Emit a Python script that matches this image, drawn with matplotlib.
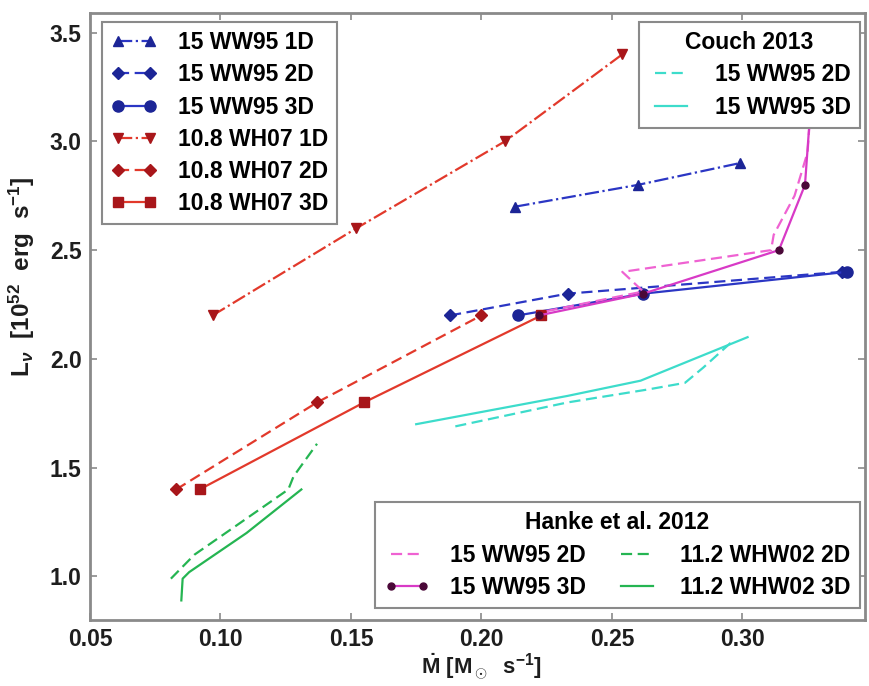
import matplotlib
matplotlib.use("Agg")
import matplotlib.pyplot as plt

# ---- data: mass accretion rate [Msun/s] vs neutrino luminosity [1e52 erg/s] ----
ww95_1d_mdot = [0.213, 0.260, 0.299]
ww95_1d_lum = [2.7, 2.8, 2.9]
ww95_2d_mdot = [0.188, 0.233, 0.338]
ww95_2d_lum = [2.2, 2.3, 2.4]
ww95_3d_mdot = [0.214, 0.262, 0.340]
ww95_3d_lum = [2.2, 2.3, 2.4]

wh07_1d_mdot = [0.097, 0.152, 0.209, 0.254]
wh07_1d_lum = [2.2, 2.6, 3.0, 3.4]
wh07_2d_mdot = [0.083, 0.137, 0.200]
wh07_2d_lum = [1.4, 1.8, 2.2]
wh07_3d_mdot = [0.092, 0.155, 0.223]
wh07_3d_lum = [1.4, 1.8, 2.2]

couch_2d_mdot = [0.190, 0.233, 0.264, 0.278, 0.285, 0.297]
couch_2d_lum = [1.69, 1.80, 1.86, 1.89, 1.96, 2.09]
couch_3d_mdot = [0.175, 0.233, 0.261, 0.302]
couch_3d_lum = [1.70, 1.83, 1.90, 2.10]

hanke15_2d_mdot = [0.225, 0.262, 0.254, 0.311, 0.312, 0.320, 0.325, 0.327]
hanke15_2d_lum = [2.22, 2.31, 2.40, 2.50, 2.57, 2.75, 2.95, 3.30]
hanke15_3d_mdot = [0.222, 0.262, 0.314, 0.324, 0.327]
hanke15_3d_lum = [2.20, 2.30, 2.50, 2.80, 3.30]

hanke11_2d_mdot = [0.081, 0.090, 0.108, 0.126, 0.128, 0.137]
hanke11_2d_lum = [0.99, 1.10, 1.25, 1.40, 1.46, 1.61]
hanke11_3d_mdot = [0.085, 0.0855, 0.088, 0.110, 0.131]
hanke11_3d_lum = [0.89, 0.99, 1.02, 1.20, 1.40]

# ---- style ----
plt.rcParams["font.family"] = ["Liberation Sans", "DejaVu Sans"]
plt.rcParams["font.weight"] = "bold"
plt.rcParams["axes.labelweight"] = "bold"
plt.rcParams["font.size"] = 16.5
plt.rcParams["mathtext.fontset"] = "custom"
plt.rcParams["mathtext.rm"] = "Liberation Sans:bold"
plt.rcParams["mathtext.it"] = "Liberation Sans:bold:italic"
plt.rcParams["mathtext.bf"] = "Liberation Sans:bold"

BLUE = "#2b36c4"
BLUE_M = "#1c2596"
RED = "#e2392b"
RED_M = "#a8161a"
CYAN = "#3ddccb"
GREEN = "#25b552"
PINK = "#ef62d2"
MAG = "#d83ac6"
MAG_M = "#4a0838"
FRAME = "#8a8a8a"
TEXT = "#1e1e1e"

fig = plt.figure(figsize=(8.69, 6.86), dpi=100)
ax = fig.add_axes([90 / 869, 1 - 620 / 686, 775 / 869, 607 / 686])

lw = 1.6
dash = (5, 2.5)

l_ww1, = ax.plot(ww95_1d_mdot, ww95_1d_lum, linestyle="-.", color=BLUE, lw=lw,
                 marker="^", ms=6.5, mfc=BLUE_M, mec=BLUE_M, label="15 WW95 1D")
l_ww2, = ax.plot(ww95_2d_mdot, ww95_2d_lum, linestyle="--", dashes=dash, color=BLUE, lw=lw,
                 marker="D", ms=6.5, mfc=BLUE_M, mec=BLUE_M, label="15 WW95 2D")
l_ww3, = ax.plot(ww95_3d_mdot, ww95_3d_lum, linestyle="-", color=BLUE, lw=lw,
                 marker="o", ms=8, mfc=BLUE_M, mec=BLUE_M, label="15 WW95 3D")
l_wh1, = ax.plot(wh07_1d_mdot, wh07_1d_lum, linestyle="-.", color=RED, lw=lw,
                 marker="v", ms=6.5, mfc=RED_M, mec=RED_M, label="10.8 WH07 1D")
l_wh2, = ax.plot(wh07_2d_mdot, wh07_2d_lum, linestyle="--", dashes=dash, color=RED, lw=lw,
                 marker="D", ms=6.5, mfc=RED_M, mec=RED_M, label="10.8 WH07 2D")
l_wh3, = ax.plot(wh07_3d_mdot, wh07_3d_lum, linestyle="-", color=RED, lw=lw,
                 marker="s", ms=7.5, mfc=RED_M, mec=RED_M, label="10.8 WH07 3D")

l_c2, = ax.plot(couch_2d_mdot, couch_2d_lum, linestyle="--", dashes=dash, color=CYAN, lw=lw,
                label="15 WW95 2D")
l_c3, = ax.plot(couch_3d_mdot, couch_3d_lum, linestyle="-", color=CYAN, lw=lw,
                label="15 WW95 3D")

l_h2, = ax.plot(hanke15_2d_mdot, hanke15_2d_lum, linestyle="--", dashes=dash, color=PINK, lw=lw,
                label="15 WW95 2D")
l_h3, = ax.plot(hanke15_3d_mdot, hanke15_3d_lum, linestyle="-", color=MAG, lw=lw,
                marker="o", ms=5, mfc=MAG_M, mec=MAG_M, label="15 WW95 3D")
l_g2, = ax.plot(hanke11_2d_mdot, hanke11_2d_lum, linestyle="--", dashes=dash, color=GREEN, lw=lw,
                label="11.2 WHW02 2D")
l_g3, = ax.plot(hanke11_3d_mdot, hanke11_3d_lum, linestyle="-", color=GREEN, lw=lw,
                label="11.2 WHW02 3D")

ax.set_xlim(0.05, 0.347)
ax.set_ylim(0.8, 3.59)
ax.set_xticks([0.05, 0.10, 0.15, 0.20, 0.25, 0.30])
ax.set_xticklabels(["0.05", "0.10", "0.15", "0.20", "0.25", "0.30"])
ax.set_yticks([1.0, 1.5, 2.0, 2.5, 3.0, 3.5])
ax.set_yticklabels(["1.0", "1.5", "2.0", "2.5", "3.0", "3.5"])
ax.tick_params(direction="in", length=5, width=1.2, color=FRAME,
               top=True, right=True, labelcolor=TEXT, pad=6)
for s in ax.spines.values():
    s.set_color(FRAME)
    s.set_linewidth(2.0)

ax.set_xlabel(r"$\dot{\mathrm{M}}$ [M$_\odot$  s$^{-1}$]", color=TEXT, fontsize=16)
ax.xaxis.set_label_coords(0.505, -0.052)
ax.set_ylabel(r"L$_\nu$  [10$^{52}$  erg  s$^{-1}$]", color=TEXT, fontsize=17.5)
ax.yaxis.set_label_coords(-0.068, 0.565)

leg_kw = dict(frameon=True, fancybox=False, edgecolor=FRAME, facecolor="white",
              framealpha=1.0, handlelength=2.0, handletextpad=0.9, borderpad=0.4,
              labelspacing=0.40, borderaxespad=0.0, numpoints=2)

leg1 = ax.legend(handles=[l_ww1, l_ww2, l_ww3, l_wh1, l_wh2, l_wh3],
                 loc="upper left", bbox_to_anchor=(0.0155, 0.985), **leg_kw)
leg1.get_frame().set_linewidth(1.5)
ax.add_artist(leg1)

leg2 = ax.legend(handles=[l_c2, l_c3], loc="upper right", title="Couch 2013",
                 bbox_to_anchor=(0.9935, 0.985), **leg_kw)
leg2.get_frame().set_linewidth(1.5)
leg2.get_title().set_fontweight("bold")
ax.add_artist(leg2)

leg3 = ax.legend(handles=[l_h2, l_h3, l_g2, l_g3], loc="lower right", ncol=2,
                 title="Hanke et al. 2012", columnspacing=1.2,
                 bbox_to_anchor=(0.9935, 0.0198), **leg_kw)
leg3.get_frame().set_linewidth(1.5)
leg3.get_title().set_fontweight("bold")

fig.savefig("out.png", dpi=100)
